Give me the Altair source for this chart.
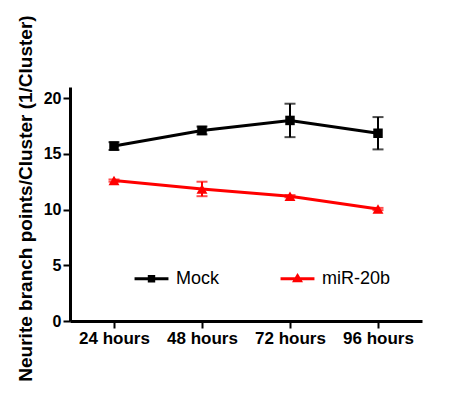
import altair as alt
import pandas as pd

# Time points and group summaries (mean ± SEM)
timepoints = ["24 hours", "48 hours", "72 hours", "96 hours"]
mock_mean = [15.7, 17.1, 18.0, 16.85]
mock_err = [0.35, 0.35, 1.5, 1.45]
mir_mean = [12.6, 11.85, 11.2, 10.05]
mir_err = [0.1, 0.65, 0.1, 0.1]
groups = ["Mock", "miR-20b"]
group_colors = ["#000000", "#ff0000"]
group_shapes = ["square", "triangle-up"]

rows = []
for t, m, e in zip(timepoints, mock_mean, mock_err):
    rows.append({"time": t, "group": groups[0], "mean": m, "lo": m - e, "hi": m + e})
for t, m, e in zip(timepoints, mir_mean, mir_err):
    rows.append({"time": t, "group": groups[1], "mean": m, "lo": m - e, "hi": m + e})
df = pd.DataFrame(rows)

FONT = "Liberation Sans"

# Legend symbols: a line segment with the marker drawn on it
legend_paths = [
    "M-1,0H1M-0.13,-0.13H0.13V0.13H-0.13Z",
    "M-1,0H1M0,-0.17L0.17,0.12H-0.17Z",
]
key = alt.Legend(title=None, orient="none", direction="horizontal",
                 legendX=63, legendY=173, symbolSize=1150,
                 symbolOpacity=1, symbolStrokeWidth=3,
                 labelFont=FONT, labelFontSize=18,
                 labelColor="#000000", labelOffset=6,
                 columnPadding=54)

x = alt.X("time:N", sort=timepoints,
          scale=alt.Scale(type="point", padding=0.5),
          axis=alt.Axis(title=None, labelAngle=0))
y_scale = alt.Scale(domain=[0, 21], nice=False)
color = alt.Color("group:N", scale=alt.Scale(domain=groups, range=group_colors), legend=key)

base = alt.Chart(df)

lines = base.mark_line(strokeWidth=3).encode(
    x=x,
    y=alt.Y("mean:Q", scale=y_scale,
            axis=alt.Axis(title="Neurite branch points/Cluster (1/Cluster)",
                          values=[0, 5, 10, 15, 20], titleY=111)),
    color=color,
    detail="group:N",
)

bars = base.mark_rule(strokeWidth=2).encode(
    x=x, y=alt.Y("lo:Q", scale=y_scale), y2="hi:Q", color=color
)
caps_hi = base.mark_tick(size=11, thickness=2).encode(
    x=x, y=alt.Y("hi:Q", scale=y_scale), color=color
)
caps_lo = base.mark_tick(size=11, thickness=2).encode(
    x=x, y=alt.Y("lo:Q", scale=y_scale), color=color
)

# One marker layer per group so each keeps its own symbol
marker_layers = []
for g, shp, sz in zip(groups, group_shapes, [90, 120]):
    marker_layers.append(
        base.transform_filter(alt.datum.group == g)
        .mark_point(filled=True, size=sz, opacity=1, shape=shp)
        .encode(x=x, y=alt.Y("mean:Q", scale=y_scale), color=color)
    )

# Invisible layer that carries the symbol shapes for the key
legend_layer = base.mark_point(filled=False, opacity=0, strokeWidth=3).encode(
    x=x,
    y=alt.Y("mean:Q", scale=y_scale),
    color=color,
    shape=alt.Shape("group:N", scale=alt.Scale(domain=groups, range=legend_paths), legend=key),
)

chart = alt.layer(lines, bars, caps_hi, caps_lo, *marker_layers, legend_layer).properties(
    width=352, height=234,
    autosize=alt.AutoSizeParams(type="none"),
    padding={"left": 70, "top": 87, "right": 44, "bottom": 79},
    background="#ffffff",
).configure_view(stroke=None).configure_axis(
    domainColor="#000000", domainWidth=3,
    tickColor="#000000", tickWidth=2, tickSize=7,
    labelFont=FONT, labelFontWeight="bold", labelColor="#000000",
    titleFont=FONT, titleFontWeight="bold", titleColor="#000000",
    grid=False,
).configure_axisX(
    labelFontSize=17, labelPadding=2,
).configure_axisY(
    labelFontSize=16, labelPadding=2, titleFontSize=19, titlePadding=8,
)

chart.save("out.html", embed_options={"renderer": "svg", "actions": False})
